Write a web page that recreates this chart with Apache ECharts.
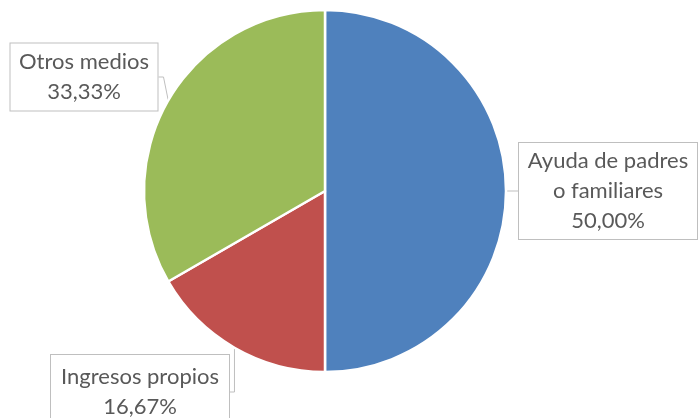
<!DOCTYPE html>
<html><head><meta charset="utf-8">
<script src="https://cdn.jsdelivr.net/npm/echarts@6/dist/echarts.min.js"></script>
<style>html,body{margin:0;padding:0;background:#fff}#c{width:698px;height:418px}</style>
</head><body><div id="c"></div>
<script>
var categories = ['Ayuda de padres o familiares', 'Ingresos propios', 'Otros medios'];
var labelTexts = ['Ayuda de padres\no familiares', 'Ingresos propios', 'Otros medios'];
var values = [50.00, 16.67, 33.33];
var colors = ['#4F81BD', '#C0504D', '#9BBB59'];

var boxes = [
  {x: 608, y: 191, w: 166, pad: [5, 6, 1, 6]},
  {x: 140, y: 392, w: 166, pad: [4, 6, 10, 6]},
  {x: 84, y: 77, w: 135, pad: [5, 6, 2, 6]}
];

var chart = echarts.init(document.getElementById('c'));
chart.setOption({
  animation: false,
  series: [{
    type: 'pie',
    center: [325, 191],
    radius: 181,
    startAngle: 90,
    clockwise: true,
    data: categories.map(function (c, i) {
      return {
        name: c, value: values[i],
        itemStyle: {color: colors[i]},
        label: {width: boxes[i].w, padding: boxes[i].pad}
      };
    }),
    itemStyle: {borderColor: '#fff', borderWidth: 2.5},
    label: {
      show: true,
      formatter: function (p) {
        return labelTexts[p.dataIndex] + '\n' + p.percent.toFixed(2).replace('.', ',') + '%';
      },
      fontFamily: 'Lato',
      fontSize: 22,
      lineHeight: 30,
      color: '#595959',
      align: 'center',
      backgroundColor: '#fff',
      borderColor: '#BFBFBF',
      borderWidth: 1
    },
    labelLine: {show: true, length: 5, length2: 5, lineStyle: {color: '#BFBFBF', width: 1}},
    labelLayout: function (p) {
      var b = boxes[p.dataIndex];
      return {x: b.x, y: b.y, align: 'center', verticalAlign: 'middle'};
    }
  }]
});
</script></body></html>
